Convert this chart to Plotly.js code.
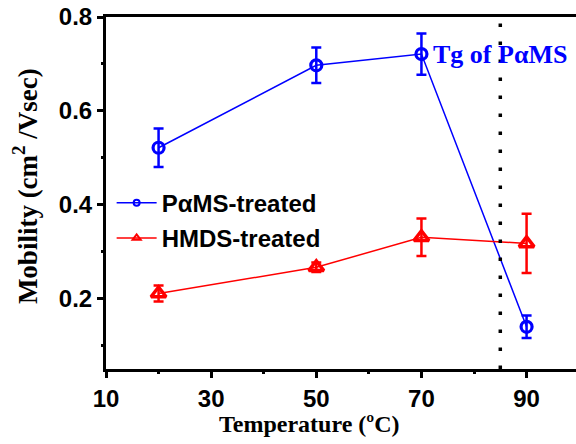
<!DOCTYPE html>
<html>
<head>
<meta charset="utf-8">
<script src="https://cdn.plot.ly/plotly-3.0.1.min.js"></script>
<style>html,body{margin:0;padding:0;background:#fff;}#chart{width:576px;height:444px;}</style>
</head>
<body>
<div id="chart"></div>
<script>
const temps = [20, 50, 70, 90];
const pamsMobility = [0.521, 0.697, 0.721, 0.139];
const pamsError = [0.041, 0.038, 0.044, 0.024];
const hmdsMobility = [0.210, 0.266, 0.330, 0.317];
const hmdsError = [0.017, 0.010, 0.040, 0.063];
const tgTemp = 85;
const xTickVals = [10, 30, 50, 70, 90];
const yTickVals = [0.2, 0.4, 0.6, 0.8];
const xMinorVals = [20, 40, 60, 80];
const yMinorVals = [0.1, 0.3, 0.5, 0.7];
const seriesNames = ['P\u03B1MS-treated', 'HMDS-treated'];

const blue = '#0000FF', red = '#FF0000';
const sans = 'Liberation Sans';
const serif = 'Liberation Serif';
const xRange = [10, 99.4];
const yRange = [0.049, 0.8];

const traces = [
  {x: [null], y: [null], xaxis: 'x2', yaxis: 'y2', type: 'scatter', mode: 'markers', showlegend: false, hoverinfo: 'skip'},
  {x: temps, y: pamsMobility, type: 'scatter', mode: 'lines+markers', showlegend: false,
   line: {color: blue, width: 1.5},
   marker: {symbol: 'circle-open', size: 11, color: blue, line: {width: 3.2, color: blue}},
   error_y: {type: 'data', array: pamsError, visible: true, color: blue, thickness: 2.5, width: 5}},
  {x: temps, y: hmdsMobility, type: 'scatter', mode: 'lines+markers', showlegend: false,
   line: {color: red, width: 1.5},
   marker: {symbol: 'triangle-up-open', size: 13, color: red, line: {width: 3.5, color: red}},
   error_y: {type: 'data', array: hmdsError, visible: true, color: red, thickness: 2.5, width: 5}},
  {x: [null], y: [null], type: 'scatter', mode: 'lines+markers', name: '<b>' + seriesNames[0] + '</b>',
   legendgroup: 'a',
   line: {color: blue, width: 1.5},
   marker: {symbol: 'circle-open', size: 6, color: blue, line: {width: 2, color: blue}}},
  {x: [null], y: [null], type: 'scatter', mode: 'lines+markers', name: '<b>' + seriesNames[1] + '</b>',
   legendgroup: 'b',
   line: {color: red, width: 1.5},
   marker: {symbol: 'triangle-up-open', size: 7, color: red, line: {width: 2, color: red}}}
];

const layout = {
  width: 576, height: 444,
  margin: {l: 106, r: 0, t: 17, b: 75},
  paper_bgcolor: '#fff', plot_bgcolor: '#fff',
  font: {family: sans, size: 22, color: '#000', weight: 'bold'},
  showlegend: true,
  legend: {x: 0.012, y: 0.535, xanchor: 'left', yanchor: 'top', bgcolor: 'rgba(0,0,0,0)',
           traceorder: 'grouped', tracegroupgap: 1, itemwidth: 40,
           font: {family: sans, size: 24, color: '#000', weight: 'bold'}},
  xaxis: {range: xRange, tickmode: 'array', tickvals: xTickVals, ticktext: xTickVals.map(v => '<b>' + v + '</b>'),
          showgrid: false, zeroline: false, showline: true, mirror: true, linecolor: '#000', linewidth: 3,
          ticks: 'outside', ticklen: 6, tickwidth: 3, tickcolor: '#000',
          tickfont: {family: sans, size: 24, color: '#000', weight: 'bold'}},
  yaxis: {range: yRange, tickmode: 'array', tickvals: yTickVals, ticktext: yTickVals.map(v => '<b>' + v.toFixed(1) + '</b>'),
          showgrid: false, zeroline: false, showline: true, mirror: false, linecolor: '#000', linewidth: 3,
          ticks: 'outside', ticklen: 6, tickwidth: 3, tickcolor: '#000',
          tickfont: {family: sans, size: 24, color: '#000', weight: 'bold'}},
  xaxis2: {range: xRange, overlaying: 'x', anchor: 'y2', side: 'bottom', tickmode: 'array', tickvals: xMinorVals,
           showticklabels: false, showgrid: false, zeroline: false, showline: false,
           ticks: 'outside', ticklen: 4, tickwidth: 3, tickcolor: '#000'},
  yaxis2: {range: yRange, overlaying: 'y', anchor: 'x2', side: 'left', tickmode: 'array', tickvals: yMinorVals,
           showticklabels: false, showgrid: false, zeroline: false, showline: false,
           ticks: 'outside', ticklen: 4, tickwidth: 3, tickcolor: '#000'},
  shapes: [
    {type: 'line', xref: 'x', yref: 'paper', x0: tgTemp, x1: tgTemp, y0: 0, y1: 1,
     line: {color: '#000', width: 3.5, dash: '3.5px,14.5px'}}
  ],
  annotations: [
    {x: tgTemp, y: 0.719, xref: 'x', yref: 'y', text: '<b>Tg of P\u03B1MS</b>', showarrow: false,
     xanchor: 'center', yanchor: 'middle',
     font: {family: serif, size: 26, color: blue}},
    {x: 0.434, y: -0.155, xref: 'paper', yref: 'paper', text: '<b>Temperature (\u00BAC)</b>', showarrow: false,
     xanchor: 'center', yanchor: 'middle',
     font: {family: serif, size: 24, color: '#000'}},
    {x: -0.172, y: 0.52, xref: 'paper', yref: 'paper', text: '<b>Mobility (cm<sup>2</sup> /Vsec)</b>', showarrow: false,
     xanchor: 'center', yanchor: 'middle', textangle: -90,
     font: {family: serif, size: 27, color: '#000'}}
  ]
};

Plotly.newPlot('chart', traces, layout, {displayModeBar: false, staticPlot: true});
</script>
</body>
</html>
